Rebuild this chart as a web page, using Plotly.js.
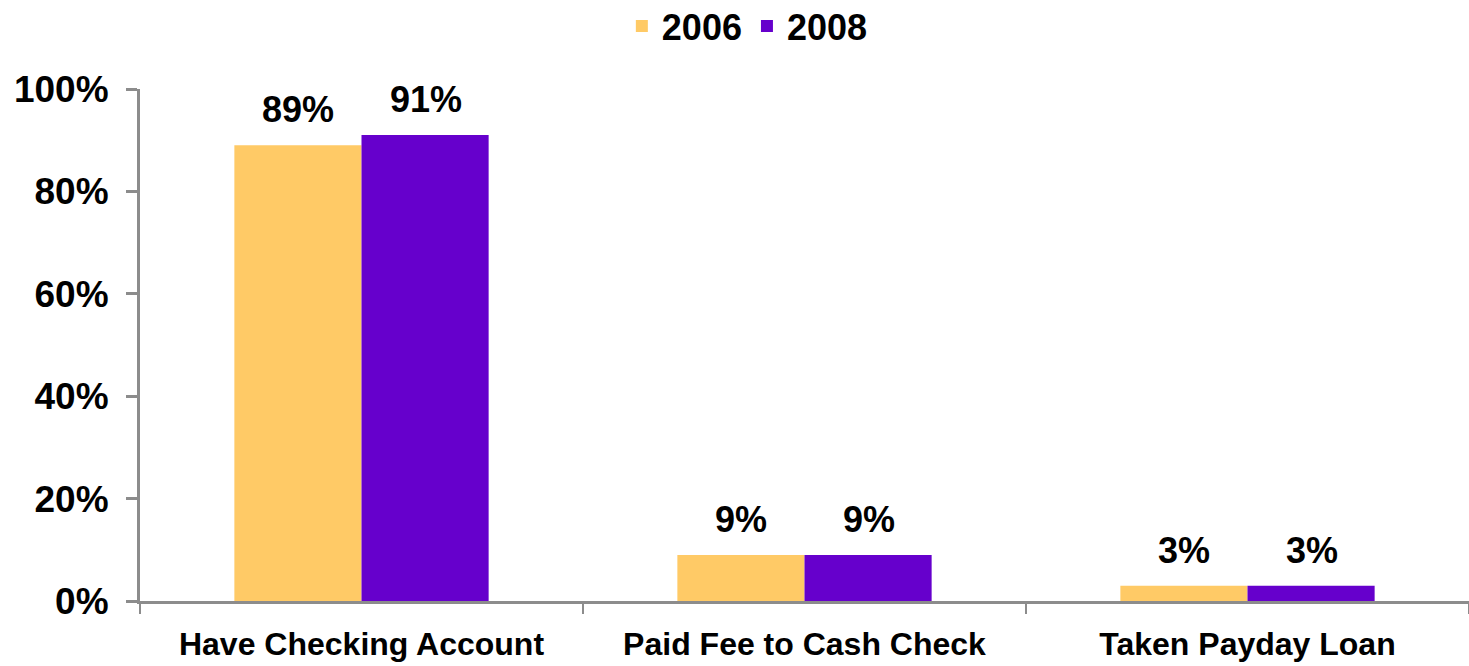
<!DOCTYPE html>
<html>
<head>
<meta charset="utf-8">
<script src="https://cdn.plot.ly/plotly-3.0.1.min.js"></script>
<style>html,body{margin:0;padding:0;background:#fff;}#chart{width:1469px;height:666px;}</style>
</head>
<body>
<div id="chart"></div>
<script>
const categories = ["Have Checking Account", "Paid Fee to Cash Check", "Taken Payday Loan"];
const seriesNames = ["2006", "2008"];
const values2006 = [0.89, 0.09, 0.03];
const values2008 = [0.91, 0.09, 0.03];
const yTickVals = [0, 0.2, 0.4, 0.6, 0.8, 1.0];
const yTickText = ["0%", "20%", "40%", "60%", "80%", "100%"];

const FONT = "Liberation Sans, Arial, sans-serif";
const colors = ["#FFCA66", "#6600CC"];

function pct(v){ return Math.round(v*100) + "%"; }

const traces = [values2006, values2008].map((vals, i) => ({
  type: "bar",
  name: seriesNames[i],
  x: categories,
  y: vals,
  marker: {color: colors[i], line: {width: 0}},
  hoverinfo: "skip"
}));

const annotations = [];
[values2006, values2008].forEach((vals, i) => {
  vals.forEach((v, j) => {
    annotations.push({
      x: categories[j], y: v, xref: "x", yref: "y",
      xshift: i === 0 ? -64 : 64, yshift: 13,
      yanchor: "bottom", showarrow: false,
      text: pct(v),
      font: {family: FONT, size: 36, color: "#000", weight: "bold"}
    });
  });
});

const layout = {
  width: 1469, height: 666,
  margin: {l: 140, r: 0, t: 89, b: 65, autoexpand: false},
  paper_bgcolor: "#fff", plot_bgcolor: "#fff",
  barmode: "group", bargap: 0.426, bargroupgap: 0,
  showlegend: true,
  legend: {
    orientation: "h", x: 0.457, xanchor: "center", y: 1.123, yanchor: "middle",
    yref: "paper",
    font: {family: FONT, size: 36, color: "#000", weight: "bold"},
    itemwidth: 30, traceorder: "normal", itemclick: false
  },
  xaxis: {
    type: "category", automargin: false,
    showline: true, linecolor: "#8C8C8C", linewidth: 3,
    ticks: "outside", tickson: "boundaries", ticklen: 10, tickwidth: 2, tickcolor: "#8C8C8C",
    ticklabelstandoff: 13,
    tickfont: {family: FONT, size: 32, color: "#000", weight: "bold"},
    showgrid: false, zeroline: false,
    fixedrange: true
  },
  yaxis: {
    range: [0, 1], automargin: false,
    tickvals: yTickVals, ticktext: yTickText,
    showline: true, linecolor: "#8C8C8C", linewidth: 3,
    ticks: "outside", ticklen: 11, tickwidth: 3, tickcolor: "#8C8C8C",
    ticklabelstandoff: 10,
    tickfont: {family: FONT, size: 37, color: "#000", weight: "bold"},
    showgrid: false, zeroline: false,
    fixedrange: true
  },
  annotations: annotations
};

Plotly.newPlot("chart", traces, layout, {displayModeBar: false, staticPlot: true});
</script>
</body>
</html>
